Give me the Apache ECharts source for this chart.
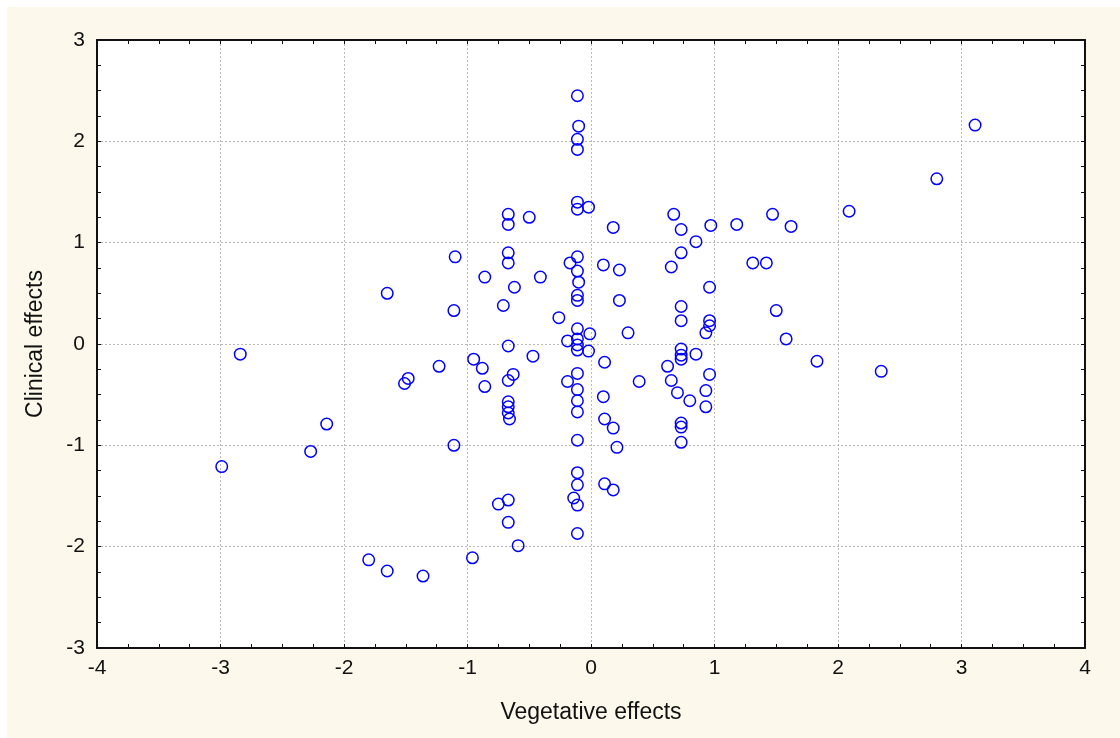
<!DOCTYPE html>
<html>
<head>
<meta charset="utf-8">
<title>Vegetative vs clinical effects</title>
<script src="https://cdn.jsdelivr.net/npm/echarts@6/dist/echarts.min.js"></script>
<style>
  html, body { margin: 0; padding: 0; background: #ffffff; }
  #panel { position: absolute; left: 7px; top: 7px; width: 1113px; height: 731px; background: #fdf8ec; }
  #chart { position: absolute; left: 0; top: 0; width: 1120px; height: 738px; }
</style>
</head>
<body>
<div id="panel"></div>
<div id="chart"></div>
<script>
// Scores per subject: vegetative effects (x) against clinical effects (y)
const vegetative = [
  -0.11, -0.10, -0.11, -0.11, -0.11, -0.11, -0.02, -0.67, -0.67, -0.50,
   0.18,  0.67,  0.73,  0.97,  0.85, -1.10, -0.67, -0.67, -0.11, -0.17,
  -0.11, -0.10,  0.10,  0.23,  0.73,  0.65, -0.86, -0.41, -0.62,  0.96,
  -0.11, -0.11,  0.23, -1.11, -0.71,  0.73,  0.73,  0.96,  0.96,  0.93,
  -0.26, -0.11, -0.11, -0.19, -0.01,  0.30, -0.67, -0.11, -0.11, -0.02,
  -0.95, -0.47,  0.11,  0.73,  0.73,  0.73,  0.85, -0.88, -1.23,  0.62,
   0.96, -0.63, -0.67, -0.86, -0.11, -0.19,  0.39,  0.65,  0.70,  0.80,
   0.93,  0.93, -0.11, -0.11, -0.11,  0.10, -0.67, -0.67, -0.67, -0.66,
   0.11,  0.18,  0.73,  0.73,  0.73, -1.11, -0.11,  0.21, -0.11, -0.11,
   0.11,  0.18, -0.75, -0.67, -0.14, -0.11, -0.67, -0.11, -0.59, -0.96,
  -1.65, -2.84, -1.48, -1.51, -2.14, -2.27, -2.99, -1.80, -1.65, -1.36,
   3.11,  2.80,  2.09,  1.18,  1.47,  1.62,  1.31,  1.42,  1.50,  1.58,
   1.83,  2.35
];
const clinical = [
   2.45,  2.15,  2.02,  1.92,  1.40,  1.33,  1.35,  1.28,  1.18,  1.25,
   1.15,  1.28,  1.13,  1.17,  1.01,  0.86,  0.90,  0.80,  0.86,  0.80,
   0.72,  0.61,  0.78,  0.73,  0.90,  0.76,  0.66,  0.66,  0.56,  0.56,
   0.48,  0.43,  0.43,  0.33,  0.38,  0.37,  0.23,  0.23,  0.18,  0.11,
   0.26,  0.15,  0.05,  0.03,  0.10,  0.11, -0.02, -0.01, -0.06, -0.07,
  -0.15, -0.12, -0.18, -0.05, -0.11, -0.15, -0.10, -0.24, -0.22, -0.22,
  -0.30, -0.30, -0.36, -0.42, -0.29, -0.37, -0.37, -0.36, -0.48, -0.56,
  -0.46, -0.62, -0.45, -0.56, -0.67, -0.52, -0.57, -0.62, -0.68, -0.74,
  -0.74, -0.83, -0.78, -0.82, -0.97, -1.00, -0.95, -1.02, -1.27, -1.39,
  -1.38, -1.44, -1.58, -1.54, -1.52, -1.59, -1.76, -1.87, -1.99, -2.11,
   0.50, -0.10, -0.34, -0.39, -0.79, -1.06, -1.21, -2.13, -2.24, -2.29,
   2.16,  1.63,  1.31,  1.18,  1.28,  1.16,  0.80,  0.80,  0.33,  0.05,
  -0.17, -0.27
];

// Axis ranges and tick spacing
const xRange = [-4, 4];
const yRange = [-3, 3];
const tickStep = 1;

const xAxisTitle = 'Vegetative effects';
const yAxisTitle = 'Clinical effects';

const points = vegetative.map((v, i) => [v, clinical[i]]);

const FONT = '"Liberation Sans", Arial, Helvetica, sans-serif';
const INK = '#111111';

function frameAxis(extra) {
  return Object.assign({
    type: 'value',
    interval: tickStep,
    axisLine: { show: true, onZero: false, lineStyle: { color: INK, width: 2 } },
    axisTick: { show: true, inside: true, length: 4, lineStyle: { color: INK, width: 1 } },
    minorTick: { show: true, splitNumber: 4, length: 4, lineStyle: { color: INK, width: 1 } },
    splitLine: { show: false },
    axisLabel: { show: false }
  }, extra);
}

const gridLine = { show: true, lineStyle: { color: '#b8b8b8', width: 1, type: [2, 2] } };
const labelStyle = { show: true, color: INK, fontFamily: FONT, fontSize: 21, showMinLabel: true, showMaxLabel: true };

const chart = echarts.init(document.getElementById('chart'), null, { renderer: 'canvas' });

chart.setOption({
  backgroundColor: 'transparent',
  animation: false,
  grid: {
    left: 97, top: 40, width: 988, height: 608,
    show: true, backgroundColor: '#ffffff', borderWidth: 0,
    containLabel: false, outerBoundsMode: 'none'
  },
  xAxis: [
    frameAxis({
      position: 'bottom', min: xRange[0], max: xRange[1],
      axisLabel: Object.assign({}, labelStyle, { margin: 10 }),
      splitLine: gridLine,
      name: xAxisTitle, nameLocation: 'middle', nameGap: 53,
      nameTextStyle: { color: INK, fontFamily: FONT, fontSize: 23 }
    }),
    frameAxis({ position: 'top', min: xRange[0], max: xRange[1] })
  ],
  yAxis: [
    frameAxis({
      position: 'left', min: yRange[0], max: yRange[1],
      axisLabel: Object.assign({}, labelStyle, { margin: 12 }),
      splitLine: gridLine,
      name: yAxisTitle, nameLocation: 'middle', nameGap: 50, nameRotate: 90,
      nameTextStyle: { color: INK, fontFamily: FONT, fontSize: 23 }
    }),
    frameAxis({ position: 'right', min: yRange[0], max: yRange[1] })
  ],
  series: [{
    type: 'scatter',
    xAxisIndex: 0,
    yAxisIndex: 0,
    data: points,
    symbol: 'circle',
    symbolSize: 11.5,
    itemStyle: { color: 'rgba(0,0,0,0)', borderColor: '#0000ff', borderWidth: 1.5, opacity: 1 },
    emphasis: { disabled: true }
  }]
});
</script>
</body>
</html>
